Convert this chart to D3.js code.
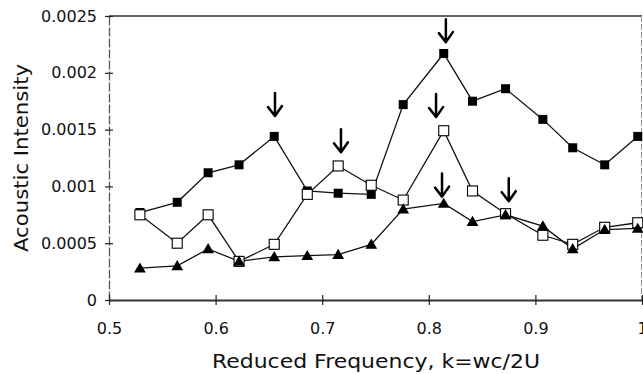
<!DOCTYPE html>
<html>
<head>
<meta charset="utf-8">
<script src="https://cdn.jsdelivr.net/npm/d3@7"></script>
<style>
  html, body { margin: 0; padding: 0; background: #fff; }
  svg { display: block; }
  text { font-family: "DejaVu Sans", sans-serif; fill: #111; }
</style>
</head>
<body>
<div id="chart"></div>
<script>
// reduced frequency of each measurement
const kValues = [0.529, 0.564, 0.593, 0.622, 0.655, 0.686, 0.715, 0.746, 0.776, 0.814, 0.841, 0.872, 0.907, 0.935, 0.965, 0.996];

// three series
const filledSquares = [0.00077, 0.00086, 0.00112, 0.00119, 0.00144, 0.00096, 0.00094, 0.00093, 0.00172, 0.00217, 0.00175, 0.00186, 0.00159, 0.00134, 0.00119, 0.00144];
const openSquares   = [0.00075, 0.00050, 0.00075, 0.00034, 0.00049, 0.00093, 0.00118, 0.00101, 0.00088, 0.00149, 0.00096, 0.00076, 0.00057, 0.00049, 0.00064, 0.00068];
const triangles     = [0.00028, 0.00030, 0.00045, 0.00034, 0.00038, 0.00039, 0.00040, 0.00049, 0.00080, 0.00085, 0.00069, 0.00075, 0.00065, 0.00045, 0.00062, 0.00063];

// hand drawn arrows: k position and value at the arrow tip
const arrowK   = [0.6557, 0.7176, 0.8160, 0.8068, 0.8124, 0.8750];
const arrowTip = [0.00162, 0.00130, 0.00227, 0.00161, 0.00091, 0.00087];

const xTicks = [0.5, 0.6, 0.7, 0.8, 0.9, 1];
const yTicks = [0, 0.0005, 0.001, 0.0015, 0.002, 0.0025];
const xTickLabels = ['0.5', '0.6', '0.7', '0.8', '0.9', '1'];
const yTickLabels = ['0', '0.0005', '0.001', '0.0015', '0.002', '0.0025'];

const width = 643, height = 374;
const margin = { top: 16, right: 1, bottom: 74, left: 109 };

const svg = d3.select('#chart').append('svg')
    .attr('width', width)
    .attr('height', height);

const x = d3.scaleLinear().domain([0.5, 1]).range([margin.left, width - margin.right]);
const y = d3.scaleLinear().domain([0, 0.0025]).range([height - margin.bottom, margin.top]);

// frame: top and right border
svg.append('line')
    .attr('x1', x(0.5)).attr('x2', x(1))
    .attr('y1', y(0.0025)).attr('y2', y(0.0025))
    .attr('stroke', '#333').attr('stroke-width', 1.5);
svg.append('line')
    .attr('x1', x(1) - 0.5).attr('x2', x(1) - 0.5)
    .attr('y1', y(0.0025)).attr('y2', y(0))
    .attr('stroke', '#999').attr('stroke-width', 1)
    .attr('stroke-dasharray', '6,2');

// y axis, ticks cross the line
const yAxis = svg.append('g')
    .attr('transform', `translate(${x(0.5)},0)`)
    .call(d3.axisLeft(y).tickValues(yTicks).tickFormat((d, i) => yTickLabels[i]).tickSize(0).tickPadding(12));
yAxis.select('.domain').attr('stroke', '#555').attr('stroke-width', 1.3).attr('stroke-dasharray', '9,2');
yAxis.selectAll('.tick').append('line')
    .attr('x1', -4).attr('x2', 4)
    .attr('stroke', '#222').attr('stroke-width', 1.2);
yAxis.selectAll('text').style('font-size', '16px').attr('fill', '#111');

// x axis
const xAxis = svg.append('g')
    .attr('transform', `translate(0,${y(0)})`)
    .call(d3.axisBottom(x).tickValues(xTicks).tickFormat((d, i) => xTickLabels[i]).tickSize(0).tickPadding(23));
xAxis.select('.domain').attr('stroke', '#333').attr('stroke-width', 2);
xAxis.selectAll('.tick').append('line')
    .attr('y1', -5).attr('y2', 5)
    .attr('stroke', '#222').attr('stroke-width', 1.2);
xAxis.selectAll('text').style('font-size', '16px').attr('fill', '#111');

// axis titles
svg.append('text')
    .attr('x', 376).attr('y', 368)
    .attr('text-anchor', 'middle')
    .attr('textLength', 328).attr('lengthAdjust', 'spacingAndGlyphs')
    .style('font-size', '20px')
    .text('Reduced Frequency, k=wc/2U');

svg.append('text')
    .attr('transform', 'translate(28,158) rotate(-90)')
    .attr('text-anchor', 'middle')
    .attr('textLength', 188).attr('lengthAdjust', 'spacingAndGlyphs')
    .style('font-size', '20px')
    .text('Acoustic Intensity');

const line = d3.line().x(d => x(d.k)).y(d => y(d.v));
const toPoints = vals => vals.map((v, i) => ({ k: kValues[i], v }));

const series = [
    { name: 'filled', values: filledSquares },
    { name: 'open', values: openSquares },
    { name: 'triangle', values: triangles }
];

series.forEach(s => {
    svg.append('path')
        .datum(toPoints(s.values))
        .attr('d', line)
        .attr('fill', 'none')
        .attr('stroke', '#111')
        .attr('stroke-width', 1.3);
});

series.forEach(s => {
    const pts = toPoints(s.values);
    const g = svg.append('g');
    if (s.name === 'triangle') {
        g.selectAll('path').data(pts).enter().append('path')
            .attr('d', d3.symbol(d3.symbolTriangle, 60))
            .attr('transform', d => `translate(${x(d.k)},${y(d.v) + 1})`)
            .attr('fill', '#000');
    } else {
        const sz = s.name === 'filled' ? 9 : 10;
        g.selectAll('rect').data(pts).enter().append('rect')
            .attr('x', d => x(d.k) - sz / 2)
            .attr('y', d => y(d.v) - sz / 2)
            .attr('width', sz).attr('height', sz)
            .attr('fill', s.name === 'filled' ? '#000' : '#fff')
            .attr('stroke', '#000')
            .attr('stroke-width', s.name === 'filled' ? 0 : 1.1);
    }
});

// arrows pointing down at the peaks
const arrows = arrowK.map((k, i) => ({ k, v: arrowTip[i] }));
const ag = svg.append('g')
    .attr('fill', 'none')
    .attr('stroke', '#000')
    .attr('stroke-width', 2.5)
    .attr('stroke-linecap', 'round')
    .attr('stroke-linejoin', 'round');
ag.selectAll('path').data(arrows).enter().append('path')
    .attr('d', d => {
        const ax = x(d.k), ay = y(d.v);
        return `M${ax},${ay - 23} L${ax},${ay} M${ax - 7},${ay - 9} L${ax},${ay} L${ax + 7},${ay - 10}`;
    });
</script>
</body>
</html>
